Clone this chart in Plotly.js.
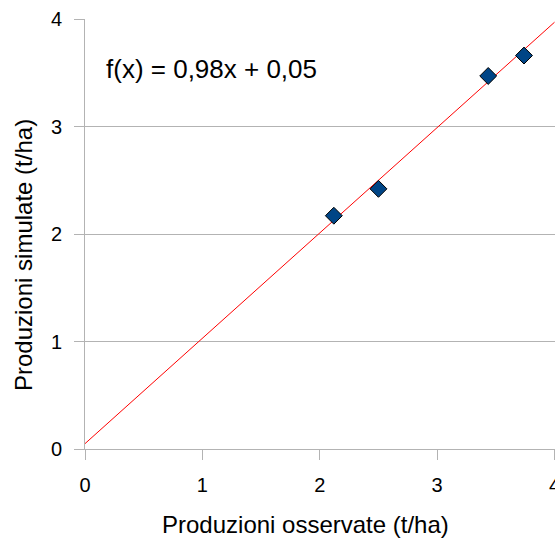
<!DOCTYPE html>
<html>
<head>
<meta charset="utf-8">
<script src="https://cdn.plot.ly/plotly-3.0.1.min.js"></script>
<style>html,body{margin:0;padding:0;background:#fff;overflow:hidden}</style>
</head>
<body>
<div id="chart" style="width:555px;height:538px"></div>
<script>
const observed = [2.12, 2.50, 3.435, 3.74];
const simulated = [2.17, 2.42, 3.47, 3.66];
const slope = 0.98;
const intercept = 0.05;
const trendX = [0, 4];
const equationText = "f(x) = 0,98x + 0,05";
const xTitle = "Produzioni osservate (t/ha)";
const yTitle = "Produzioni simulate (t/ha)";
const tickVals = [0, 1, 2, 3, 4];

const trendY = trendX.map(x => slope * x + intercept);
const FONT = 'Liberation Sans, Arial, sans-serif';

const traces = [
  {
    x: trendX, y: trendY, type: 'scatter', mode: 'lines',
    line: {color: '#ff0000', width: 1}, hoverinfo: 'skip', showlegend: false
  },
  {
    x: observed, y: simulated, type: 'scatter', mode: 'markers',
    marker: {symbol: 'diamond', size: 13, color: '#004586', line: {color: '#000000', width: 1}},
    showlegend: false
  }
];

const axisCommon = {
  tickvals: tickVals, ticktext: tickVals.map(String),
  showgrid: false, zeroline: false, showline: true, linecolor: '#b3b3b3', linewidth: 1,
  ticks: 'outside', ticklen: 10, tickcolor: '#b3b3b3', tickwidth: 1,
  tickfont: {family: FONT, size: 20, color: '#000'},
  ticklabeloverflow: 'allow',
  fixedrange: true
};

const layout = {
  width: 555, height: 538,
  margin: {l: 85, r: 0, t: 19, b: 89, pad: 0},
  paper_bgcolor: '#ffffff', plot_bgcolor: '#ffffff',
  font: {family: FONT, color: '#000'},
  xaxis: Object.assign({}, axisCommon, {range: [0, 4.004], ticklabelstandoff: 8}),
  yaxis: Object.assign({}, axisCommon, {range: [0, 4], showgrid: true, gridcolor: '#b3b3b3', gridwidth: 1, ticklabelstandoff: 8}),
  annotations: [
    {text: equationText, xref: 'paper', yref: 'paper', x: (104 - 85) / 470, y: (449 - 69) / 430,
     xanchor: 'left', yanchor: 'middle', showarrow: false,
     font: {size: 26, family: FONT, color: '#000'}},
    {text: xTitle, xref: 'paper', yref: 'paper', x: (305 - 85) / 470, y: (449 - 524) / 430,
     xanchor: 'center', yanchor: 'middle', showarrow: false,
     font: {size: 24, family: FONT, color: '#000'}},
    {text: yTitle, xref: 'paper', yref: 'paper', x: (23 - 85) / 470, y: (449 - 255) / 430,
     xanchor: 'center', yanchor: 'middle', textangle: -90, showarrow: false,
     font: {size: 24, family: FONT, color: '#000'}}
  ]
};

Plotly.newPlot('chart', traces, layout, {displayModeBar: false, staticPlot: true});
</script>
</body>
</html>
